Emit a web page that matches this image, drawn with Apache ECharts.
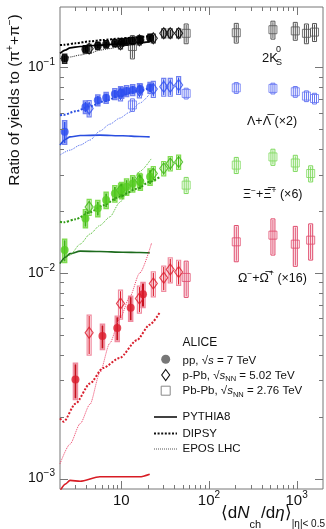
<!DOCTYPE html>
<html>
<head>
<meta charset="utf-8">
<script src="https://cdn.jsdelivr.net/npm/echarts@6/dist/echarts.min.js"></script>
<style>
  html, body { margin: 0; padding: 0; background: #fff; }
  #chart { width: 326px; height: 529px; }
</style>
</head>
<body>
<div id="chart"></div>
<script>
// ---- charged-particle multiplicity classes <dNch/deta> ----
const ppMult        = [2.26, 3.90, 5.40, 6.72, 8.45, 10.1, 11.5, 13.5, 16.5, 21.3];
const ppMultOmega   = [3.0, 6.1, 9.0, 12.8, 17.7];
const pPbMult       = [4.3, 9.8, 16.1, 23.2, 30.5, 36.2, 45.1];
const pbPbMult      = [13.4, 55, 205, 537, 966, 1294, 1601];
const pbPbMultMulti = [55, 205, 537, 966, 1447];

// ---- 2K0S / (pi+ + pi-) ----
const ppK0       = [0.110, 0.122, 0.127, 0.129, 0.131, 0.132, 0.133, 0.134, 0.136, 0.139];
const ppK0Err    = [0.05, 0.04, 0.04, 0.04, 0.04, 0.04, 0.04, 0.04, 0.04, 0.04];
const pPbK0      = [0.123, 0.129, 0.135, 0.138, 0.146, 0.146, 0.146];
const pPbK0Err   = [0.05, 0.05, 0.05, 0.05, 0.05, 0.05, 0.05];
const pbPbK0     = [0.126, 0.146, 0.147, 0.152, 0.150, 0.146, 0.148];
const pbPbK0Err  = [0.13, 0.11, 0.11, 0.10, 0.10, 0.11, 0.10];

// ---- (Lambda + anti-Lambda) x2 ----
const ppLambda      = [0.0485, 0.064, 0.069, 0.071, 0.074, 0.075, 0.0765, 0.0775, 0.078, 0.0795];
const ppLambdaErr   = [0.13, 0.07, 0.06, 0.06, 0.06, 0.06, 0.06, 0.06, 0.06, 0.06];
const pPbLambda     = [0.063, 0.0745, 0.077, 0.0782, 0.0802, 0.0802, 0.0818];
const pPbLambdaErr  = [0.09, 0.08, 0.08, 0.09, 0.1, 0.1, 0.1];
const pbPbLambda    = [0.0655, 0.0745, 0.0793, 0.0788, 0.0759, 0.0723, 0.0704];
const pbPbLambdaErr = [0.07, 0.06, 0.06, 0.06, 0.06, 0.06, 0.06];

// ---- (Xi- + anti-Xi+) x6 ----
const ppXi      = [0.0129, 0.0184, 0.0206, 0.0226, 0.0243, 0.0252, 0.0262, 0.0272, 0.0277, 0.0293];
const ppXiErr   = [0.13, 0.10, 0.09, 0.09, 0.09, 0.09, 0.09, 0.09, 0.09, 0.09];
const pPbXi     = [0.0209, 0.0252, 0.0282, 0.0304, 0.0322, 0.0340, 0.0346];
const pPbXiErr  = [0.09, 0.08, 0.08, 0.08, 0.08, 0.08, 0.08];
const pbPbXi    = [0.0267, 0.0334, 0.0366, 0.0342, 0.0304];
const pbPbXiErr = [0.09, 0.09, 0.09, 0.09, 0.09];

// ---- (Omega- + anti-Omega+) x16 ----
const ppOmega      = [0.00303, 0.00493, 0.0054, 0.00676, 0.00788];
const ppOmegaErr   = [0.20, 0.14, 0.14, 0.14, 0.14];
const pPbOmega     = [0.00511, 0.0071, 0.0075, 0.00888, 0.00946, 0.01039, 0.0101];
const pPbOmegaErr  = [0.22, 0.16, 0.15, 0.14, 0.14, 0.14, 0.14];
const pbPbOmega    = [0.0095, 0.01415, 0.01525, 0.01379, 0.01442];
const pbPbOmegaErr = [0.20, 0.20, 0.20, 0.22, 0.20];

// ---- model calculations (pp, 7 TeV) ----
const pythiaMult   = [2.0, 2.3, 2.6, 3.4, 5.7, 10.4, 16.2, 21.1];
const pythiaK0     = [0.1166, 0.121, 0.1241, 0.126, 0.1279, 0.130, 0.1315, 0.1327];
const pythiaLambda = [0.0418, 0.0445, 0.0458, 0.0465, 0.0467, 0.0464, 0.0460, 0.0458];
const pythiaXi     = [0.0111, 0.0119, 0.0124, 0.01275, 0.0127, 0.0126, 0.01255, 0.0125];
const pythiaOmega  = [0.00087, 0.00094, 0.00098, 0.00097, 0.00102, 0.00102, 0.00102, 0.00105];

const dipsyMult   = [2.0, 2.2, 3.0, 4.4, 6.2, 9.6, 15.0, 21.1, 27.4];
const dipsyK0     = [0.128, 0.1283, 0.1305, 0.1335, 0.1355, 0.1376, 0.1398, 0.1415, null];
const dipsyLambda = [0.0584, 0.0586, 0.061, 0.0645, 0.068, 0.0723, 0.0765, 0.079, null];
const dipsyXi     = [0.0177, 0.0176, 0.0182, 0.0197, 0.0213, 0.0235, 0.0256, 0.0277, 0.0292];
const dipsyOmega  = [0.00196, 0.00189, 0.00231, 0.0029, 0.00345, 0.00386, 0.0047, 0.0056, 0.0064];

const eposMult   = [2.0, 2.6, 3.4, 4.4, 5.7, 7.4, 9.6, 12.5, 16.2, 22.1];
const eposK0     = [0.110, 0.112, 0.1145, 0.117, 0.1209, 0.123, 0.126, 0.128, 0.1305, 0.1327];
const eposLambda = [0.0374, 0.0395, 0.0418, 0.0442, 0.0489, 0.0528, 0.0565, 0.0604, 0.0668, 0.0759];
const eposXi     = [0.0111, 0.0122, 0.0138, 0.01545, 0.017, 0.0187, 0.022, 0.0262, 0.0311, 0.036];
const eposOmega  = [0.00118, 0.00147, 0.00185, 0.0023, 0.00327, 0.00455, 0.00596, 0.00764, 0.00997, 0.0139];

// ---- axes ----
const X_MIN = 2, X_MAX = 2000;
const Y_MIN = 0.00089, Y_MAX = 0.196;
const FONT = '"Liberation Sans", Arial, Helvetica, sans-serif';
const FRAME = '#777';

const chart = echarts.init(document.getElementById('chart'), null, { renderer: 'canvas' });

function decadeExp(v) {
  const l = Math.log10(v);
  const e = Math.round(l);
  return Math.abs(l - e) < 1e-6 ? e : null;
}

function zip(xs, ys) {
  const out = [];
  xs.forEach((x, i) => { if (ys[i] != null) out.push([x, ys[i]]); });
  return out;
}

// vertical uncertainty: open systematic box plus a statistical bar through the point
function errSeries(xs, ys, errs, o) {
  return {
    type: 'custom',
    z: 2,
    silent: true,
    data: xs.map((x, i) => [x, ys[i], errs[i]]),
    renderItem: (params, api) => {
      const x = api.value(0), y = api.value(1), e = api.value(2);
      const c = api.coord([x, y]);
      const hi = api.coord([x, y * (1 + e)]);
      const lo = api.coord([x, y * (1 - e)]);
      return {
        type: 'group',
        children: [
          { type: 'rect',
            shape: { x: c[0] - o.boxW / 2, y: hi[1], width: o.boxW, height: lo[1] - hi[1] },
            style: { fill: 'none', stroke: o.box, lineWidth: o.boxLW } },
          { type: 'line',
            shape: { x1: c[0], y1: hi[1] + 1, x2: c[0], y2: lo[1] - 1 },
            style: { stroke: o.line, lineWidth: o.lineW } }
        ]
      };
    }
  };
}

function markerSeries(xs, ys, o) {
  return {
    type: 'scatter',
    z: 5,
    silent: true,
    symbol: o.symbol,
    symbolSize: o.size,
    data: zip(xs, ys),
    itemStyle: { color: o.fill, borderColor: o.stroke, borderWidth: o.bw || 0 }
  };
}

function modelSeries(xs, ys, color, kind) {
  const styles = {
    pythia: { type: 'solid', width: 1.6 },
    dipsy:  { type: [2, 1.6], width: 2 },
    epos:   { type: [1, 1], width: 1 }
  };
  return {
    type: 'line',
    z: 4,
    silent: true,
    showSymbol: false,
    symbol: 'none',
    smooth: 0.25,
    smoothMonotone: 'x',
    data: zip(xs, ys),
    lineStyle: { color: color, width: styles[kind].width, type: styles[kind].type }
  };
}

const species = [
  { pp: [ppMult, ppK0, ppK0Err], ppb: [pPbMult, pPbK0, pPbK0Err], pbpb: [pbPbMult, pbPbK0, pbPbK0Err],
    c: { ppFill: '#000', ppBox: '#222', ppStat: '#000', dia: '#000', diaBox: '#444', sq: '#555', sqBox: '#555' },
    models: [[pythiaK0, '#000'], [dipsyK0, '#000'], [eposK0, '#222']] },
  { pp: [ppMult, ppLambda, ppLambdaErr], ppb: [pPbMult, pPbLambda, pPbLambdaErr], pbpb: [pbPbMult, pbPbLambda, pbPbLambdaErr],
    c: { ppFill: '#2e4ff0', ppBox: '#7080f0', ppStat: '#2e4ff0', dia: '#2e4ff0', diaBox: '#7080f0', sq: '#6676f2', sqBox: '#6676f2' },
    models: [[pythiaLambda, '#2a4ee0'], [dipsyLambda, '#2a4ee0'], [eposLambda, '#4a66ee']] },
  { pp: [ppMult, ppXi, ppXiErr], ppb: [pPbMult, pPbXi, pPbXiErr], pbpb: [pbPbMultMulti, pbPbXi, pbPbXiErr],
    c: { ppFill: '#55cc22', ppBox: '#80dd50', ppStat: '#3fb515', dia: '#3fb515', diaBox: '#80dd50', sq: '#7cd85a', sqBox: '#7cd85a' },
    models: [[pythiaXi, '#1d6b1d'], [dipsyXi, '#2f9a14'], [eposXi, '#4cbb2a']] },
  { pp: [ppMultOmega, ppOmega, ppOmegaErr], ppb: [pPbMult, pPbOmega, pPbOmegaErr], pbpb: [pbPbMultMulti, pbPbOmega, pbPbOmegaErr],
    c: { ppFill: '#dc1c2c', ppBox: '#f08ca0', ppStat: '#c8101e', dia: '#dc1c2c', diaBox: '#f08ca0', sq: '#e0486a', sqBox: '#e0486a' },
    models: [[pythiaOmega, '#d81c24'], [dipsyOmega, '#d8202e'], [eposOmega, '#ee3d64']] }
];

const series = [];
species.forEach(s => {
  const c = s.c;
  series.push(modelSeries(pythiaMult, s.models[0][0], s.models[0][1], 'pythia'));
  series.push(modelSeries(dipsyMult, s.models[1][0], s.models[1][1], 'dipsy'));
  series.push(modelSeries(eposMult, s.models[2][0], s.models[2][1], 'epos'));
  series.push(errSeries(s.pbpb[0], s.pbpb[1], s.pbpb[2], { boxW: 4, box: c.sqBox, boxLW: 1, line: c.sqBox, lineW: 1 }));
  series.push(errSeries(s.ppb[0], s.ppb[1], s.ppb[2], { boxW: 4, box: c.diaBox, boxLW: 1.2, line: c.dia, lineW: 1.2 }));
  series.push(errSeries(s.pp[0], s.pp[1], s.pp[2], { boxW: 4, box: c.ppBox, boxLW: 1.5, line: c.ppStat, lineW: 2 }));
  series.push(markerSeries(s.pbpb[0], s.pbpb[1], { symbol: 'rect', size: 8, fill: 'rgba(255,255,255,0)', stroke: c.sq, bw: 1 }));
  series.push(markerSeries(s.ppb[0], s.ppb[1], { symbol: 'diamond', size: [8, 11], fill: 'rgba(255,255,255,0)', stroke: c.dia, bw: 1.2 }));
  series.push(markerSeries(s.pp[0], s.pp[1], { symbol: 'circle', size: 8, fill: c.ppFill, stroke: c.ppFill, bw: 0 }));
});

// inward ticks on all four sides of the frame
const tickData = [];
for (let d = 0; d <= 3; d++) {
  for (let m = 1; m <= 9; m++) {
    const v = m * Math.pow(10, d);
    if (v > X_MIN * 1.01 && v < X_MAX * 0.99) tickData.push([v, Y_MIN, 0, m === 1 ? 1 : 0]);
  }
}
for (let d = -4; d <= -1; d++) {
  for (let m = 1; m <= 9; m++) {
    const v = +(m * Math.pow(10, d)).toPrecision(6);
    if (v > Y_MIN * 1.05 && v < Y_MAX * 0.99) tickData.push([X_MIN, v, 1, m === 1 ? 1 : 0]);
  }
}
series.push({
  type: 'custom',
  z: 10,
  silent: true,
  data: tickData,
  renderItem: (params, api) => {
    const kind = api.value(2), major = api.value(3);
    const len = major ? 8 : 4;
    const style = { stroke: FRAME, lineWidth: 1 };
    if (kind === 0) {
      const v = api.value(0);
      const b = api.coord([v, Y_MIN]), t = api.coord([v, Y_MAX]);
      const x = Math.round(b[0]) + 0.5;
      return { type: 'group', children: [
        { type: 'line', shape: { x1: x, y1: b[1], x2: x, y2: b[1] - len }, style },
        { type: 'line', shape: { x1: x, y1: t[1], x2: x, y2: t[1] + len }, style }
      ] };
    }
    const v = api.value(1);
    const l = api.coord([X_MIN, v]), r = api.coord([X_MAX, v]);
    const y = Math.round(l[1]) + 0.5;
    return { type: 'group', children: [
      { type: 'line', shape: { x1: l[0], y1: y, x2: l[0] + len, y2: y }, style },
      { type: 'line', shape: { x1: r[0], y1: y, x2: r[0] - len, y2: y }, style }
    ] };
  }
});

// x-axis title, laid out piece by piece from the right edge of the frame
const measureCtx = document.createElement('canvas').getContext('2d');
function textWidth(str, font) { measureCtx.font = font; return measureCtx.measureText(str).width; }
const xTitleParts = [
  { s: '\u27e8d', font: '17px ' + FONT, cy: 513.5 },
  { s: 'N', font: 'italic 17px ' + FONT, cy: 513.5 },
  { s: 'ch', font: '11px ' + FONT, cy: 524.5 },
  { s: '/d', font: '17px ' + FONT, cy: 513.5 },
  { s: '\u03b7', font: 'italic 17px ' + FONT, cy: 513.5 },
  { s: '\u27e9', font: '17px ' + FONT, cy: 513.5 },
  { s: '|\u03b7|< 0.5', font: '10px ' + FONT, cy: 524.5 }
];
const xTitleGraphics = [];
{
  const widths = xTitleParts.map(p => textWidth(p.s, p.font));
  let cursor = 325 - widths.reduce((a, b) => a + b, 0);
  xTitleParts.forEach((p, i) => {
    xTitleGraphics.push({ type: 'text', x: cursor, y: p.cy, silent: true,
      style: { text: p.s, font: p.font, fill: '#111', align: 'left', verticalAlign: 'middle' } });
    cursor += widths[i];
  });
}

const txt = { fontFamily: FONT, color: '#111' };

const option = {
  animation: false,
  backgroundColor: '#fff',
  grid: { left: 60, right: 1, top: 7, bottom: 40, show: true, borderColor: FRAME, borderWidth: 1 },
  xAxis: {
    type: 'log', logBase: 10, min: X_MIN, max: X_MAX,
    axisLine: { show: false }, axisTick: { show: false },
    splitLine: { show: false }, minorTick: { show: false }, minorSplitLine: { show: false },
    axisLabel: {
      margin: 0,
      formatter: v => {
        const e = decadeExp(v);
        if (e === null) return '';
        return e === 1 ? '{b|10}' : '{b|10}{s|' + e + '}';
      },
      rich: {
        b: Object.assign({ fontSize: 15, lineHeight: 24 }, txt),
        s: Object.assign({ fontSize: 10, lineHeight: 12, padding: [0, 0, 12, 0] }, txt)
      }
    }
  },
  yAxis: {
    type: 'log', logBase: 10, min: Y_MIN, max: Y_MAX,
    axisLine: { show: false }, axisTick: { show: false },
    splitLine: { show: false }, minorTick: { show: false }, minorSplitLine: { show: false },
    axisLabel: {
      margin: 5,
      formatter: v => {
        const e = decadeExp(v);
        if (e === null) return '';
        return '{b|10}{s|' + String(e).replace('-', '\u2212') + '}';
      },
      rich: {
        b: Object.assign({ fontSize: 14, lineHeight: 20 }, txt),
        s: Object.assign({ fontSize: 10, lineHeight: 10, padding: [0, 0, 10, 0] }, txt)
      }
    }
  },
  graphic: xTitleGraphics.concat([
    // y-axis title
    { type: 'text', x: 15, y: 100, rotation: Math.PI / 2, silent: true,
      style: {
        text: '{t|Ratio of yields to (\u03c0}{p|+}{t|+\u03c0}{p|\u2212}{t|)}',
        align: 'center', verticalAlign: 'middle',
        rich: {
          t: { fontFamily: FONT, fontSize: 15.5, lineHeight: 20, fill: '#111' },
          p: { fontFamily: FONT, fontSize: 10, lineHeight: 10, padding: [0, 0, 10, 0], fill: '#111' }
        }
      } },
    // species labels
    { type: 'text', x: 262, y: 58, silent: true,
      style: { text: '2K', font: '13px ' + FONT, fill: '#111', align: 'left', verticalAlign: 'middle' } },
    { type: 'text', x: 276, y: 50, silent: true,
      style: { text: '0', font: '9px ' + FONT, fill: '#111', align: 'left', verticalAlign: 'middle' } },
    { type: 'text', x: 276, y: 63, silent: true,
      style: { text: 'S', font: '9px ' + FONT, fill: '#111', align: 'left', verticalAlign: 'middle' } },
    { type: 'text', x: 247, y: 121.5, silent: true,
      style: { text: '\u039b+\u039b\u0305 (\u00d72)', font: '12.5px ' + FONT, fill: '#111', align: 'left', verticalAlign: 'middle' } },
    { type: 'text', x: 243, y: 195, silent: true,
      style: {
        text: '{t|\u039e}{p|\u2212}{t|+\u039e\u0305}{p|+}{t| (\u00d76)}',
        align: 'left', verticalAlign: 'middle',
        rich: {
          t: { fontFamily: FONT, fontSize: 12.5, lineHeight: 18, fill: '#111' },
          p: { fontFamily: FONT, fontSize: 8.5, lineHeight: 9, padding: [0, 0, 9, 0], fill: '#111' }
        }
      } },
    { type: 'text', x: 238, y: 278.5, silent: true,
      style: {
        text: '{t|\u03a9}{p|\u2212}{t|+\u03a9\u0305}{p|+}{t| (\u00d716)}',
        align: 'left', verticalAlign: 'middle',
        rich: {
          t: { fontFamily: FONT, fontSize: 12.5, lineHeight: 18, fill: '#111' },
          p: { fontFamily: FONT, fontSize: 8.5, lineHeight: 9, padding: [0, 0, 9, 0], fill: '#111' }
        }
      } },
    // legend
    { type: 'text', x: 182.5, y: 343, silent: true,
      style: { text: 'ALICE', font: '12px ' + FONT, fill: '#111', align: 'left', verticalAlign: 'middle' } },
    { type: 'circle', silent: true, shape: { cx: 165.7, cy: 359.3, r: 4.5 }, style: { fill: '#777' } },
    { type: 'polygon', silent: true,
      shape: { points: [[165.7, 369.5], [169.7, 375], [165.7, 380.5], [161.7, 375]] },
      style: { fill: 'none', stroke: '#111', lineWidth: 1.1 } },
    { type: 'rect', silent: true, shape: { x: 161.2, y: 386.2, width: 9, height: 9 },
      style: { fill: 'none', stroke: '#888', lineWidth: 1 } },
    { type: 'text', x: 182.5, y: 360.5, silent: true,
      style: {
        text: '{n|pp, \u221a}{i|s}{n| = 7 TeV}', align: 'left', verticalAlign: 'middle',
        rich: {
          n: { fontFamily: FONT, fontSize: 11.5, lineHeight: 16, fill: '#111' },
          i: { fontFamily: FONT, fontSize: 11.5, lineHeight: 16, fontStyle: 'italic', fill: '#111' }
        }
      } },
    { type: 'text', x: 182.5, y: 375.5, silent: true,
      style: {
        text: '{n|p-Pb, \u221a}{i|s}{b|NN}{n| = 5.02 TeV}', align: 'left', verticalAlign: 'middle',
        rich: {
          n: { fontFamily: FONT, fontSize: 11.5, lineHeight: 16, fill: '#111' },
          i: { fontFamily: FONT, fontSize: 11.5, lineHeight: 16, fontStyle: 'italic', fill: '#111' },
          b: { fontFamily: FONT, fontSize: 7.5, lineHeight: 9, padding: [7, 0, 0, 0], fill: '#111' }
        }
      } },
    { type: 'text', x: 182.5, y: 391, silent: true,
      style: {
        text: '{n|Pb-Pb, \u221a}{i|s}{b|NN}{n| = 2.76 TeV}', align: 'left', verticalAlign: 'middle',
        rich: {
          n: { fontFamily: FONT, fontSize: 11.5, lineHeight: 16, fill: '#111' },
          i: { fontFamily: FONT, fontSize: 11.5, lineHeight: 16, fontStyle: 'italic', fill: '#111' },
          b: { fontFamily: FONT, fontSize: 7.5, lineHeight: 9, padding: [7, 0, 0, 0], fill: '#111' }
        }
      } },
    { type: 'line', silent: true, shape: { x1: 154, y1: 417, x2: 177, y2: 417 },
      style: { stroke: '#111', lineWidth: 1.6 } },
    { type: 'line', silent: true, shape: { x1: 154, y1: 433.5, x2: 177, y2: 433.5 },
      style: { stroke: '#111', lineWidth: 2, lineDash: [2, 1.6] } },
    { type: 'line', silent: true, shape: { x1: 154, y1: 449, x2: 177, y2: 449 },
      style: { stroke: '#555', lineWidth: 1, lineDash: [1, 1] } },
    { type: 'text', x: 182.5, y: 417, silent: true,
      style: { text: 'PYTHIA8', font: '11.5px ' + FONT, fill: '#111', align: 'left', verticalAlign: 'middle' } },
    { type: 'text', x: 182.5, y: 433.5, silent: true,
      style: { text: 'DIPSY', font: '11.5px ' + FONT, fill: '#111', align: 'left', verticalAlign: 'middle' } },
    { type: 'text', x: 182.5, y: 449, silent: true,
      style: { text: 'EPOS LHC', font: '11.5px ' + FONT, fill: '#111', align: 'left', verticalAlign: 'middle' } }
  ]),
  series: series
};

chart.setOption(option);
</script>
</body>
</html>
